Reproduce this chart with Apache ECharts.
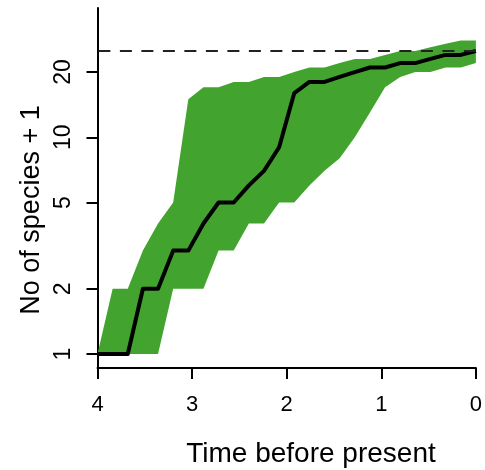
<!DOCTYPE html>
<html>
<head>
<meta charset="utf-8">
<script src="https://cdn.jsdelivr.net/npm/echarts@6/dist/echarts.min.js"></script>
<style>
  html, body { margin: 0; padding: 0; background: #fff; }
  #grafica { width: 485px; height: 470px; }
</style>
</head>
<body>
<div id="grafica"></div>
<script>
// tiempo antes del presente (eje x invertido, 4 -> 0)
const timeBP = [
  4, 3.84, 3.68, 3.52, 3.36, 3.2, 3.04, 2.88, 2.72, 2.56, 2.4, 2.24, 2.08,
  1.92, 1.76, 1.6, 1.44, 1.28, 1.12, 0.96, 0.8, 0.64, 0.48, 0.32, 0.16, 0,
];
// numero de especies + 1
const medianSpecies = [
  1, 1, 1, 2, 2, 3, 3, 4, 5, 5, 6, 7, 9, 16, 18, 18, 19, 20, 21, 21, 22, 22,
  23, 24, 24, 25,
];
const lowerSpecies = [
  1, 1, 1, 1, 1, 2, 2, 2, 3, 3, 4, 4, 5, 5, 6, 7, 8, 10, 13, 17, 19, 20, 20,
  21, 21, 22,
];
const upperSpecies = [
  1, 2, 2, 3, 4, 5, 15, 17, 17, 18, 18, 19, 19, 20, 21, 21, 22, 23, 23, 24,
  25, 25, 26, 27, 28, 28,
];
const presentSpecies = 25; // linea discontinua
const xTicks = [4, 3, 2, 1, 0];
const yTicks = [1, 2, 5, 10, 20];

const GREEN = "#42a42e";
const FONT = "Liberation Sans";

const option = {
  animation: false,
  grid: { left: 97.5, right: 7.5, top: 8, bottom: 102 },
  xAxis: {
    type: "value",
    inverse: true,
    min: 0,
    max: 4,
    interval: 1,
    splitLine: { show: false },
    axisLine: { onZero: false, lineStyle: { color: "#000", width: 2 } },
    axisTick: { length: 11, lineStyle: { color: "#000", width: 2 }, customValues: xTicks },
    axisLabel: {
      customValues: xTicks,
      margin: 26,
      fontSize: 22,
      fontFamily: FONT,
      color: "#000",
    },
  },
  yAxis: {
    type: "log",
    position: "left",
    logBase: 10,
    min: 0.862,
    max: 39.5,
    splitLine: { show: false },
    axisLine: { show: true, onZero: false, lineStyle: { color: "#000", width: 2 } },
    axisTick: { show: true, length: 11, lineStyle: { color: "#000", width: 2 }, customValues: yTicks },
    axisLabel: {
      customValues: yTicks,
      rotate: 90,
      margin: 22,
      fontSize: 23,
      fontFamily: FONT,
      color: "#000",
    },
  },
  graphic: [
    {
      type: "text",
      x: 311,
      y: 454,
      style: {
        text: "Time before present",
        font: '28px "Liberation Sans"',
        fill: "#000",
        align: "center",
        verticalAlign: "middle",
        textAlign: "center",
        textVerticalAlign: "middle",
      },
    },
    {
      type: "text",
      x: 32,
      y: 210,
      rotation: Math.PI / 2,
      style: {
        text: "No of species + 1",
        font: '27px "Liberation Sans"',
        fill: "#000",
        align: "center",
        verticalAlign: "middle",
        textAlign: "center",
        textVerticalAlign: "middle",
      },
    },
  ],
  series: [
    {
      // banda verde (intervalo)
      type: "custom",
      silent: true,
      z: 1,
      data: [[timeBP[0], upperSpecies[0]]],
      renderItem: (params, api) => {
        const pts = [];
        timeBP.forEach((t, i) => pts.push(api.coord([t, upperSpecies[i]])));
        for (let i = timeBP.length - 1; i >= 0; i--) {
          pts.push(api.coord([timeBP[i], lowerSpecies[i]]));
        }
        return {
          type: "polygon",
          shape: { points: pts },
          style: { fill: GREEN, stroke: null },
        };
      },
    },
    {
      type: "line",
      z: 3,
      silent: true,
      showSymbol: false,
      data: timeBP.map((t, i) => [t, medianSpecies[i]]),
      lineStyle: { color: "#000", width: 4, join: "round" },
      markLine: {
        silent: true,
        symbol: ["none", "none"],
        label: { show: false },
        lineStyle: { color: "#222", width: 2, type: [12, 9.5] },
        data: [{ yAxis: presentSpecies }],
      },
    },
  ],
};

const createEcharts = () => {
  let myChart = echarts.init(document.querySelector("#grafica"));
  myChart.setOption(option);
};

window.addEventListener("DOMContentLoaded", (e) => {
  createEcharts();
});
</script>
</body>
</html>
